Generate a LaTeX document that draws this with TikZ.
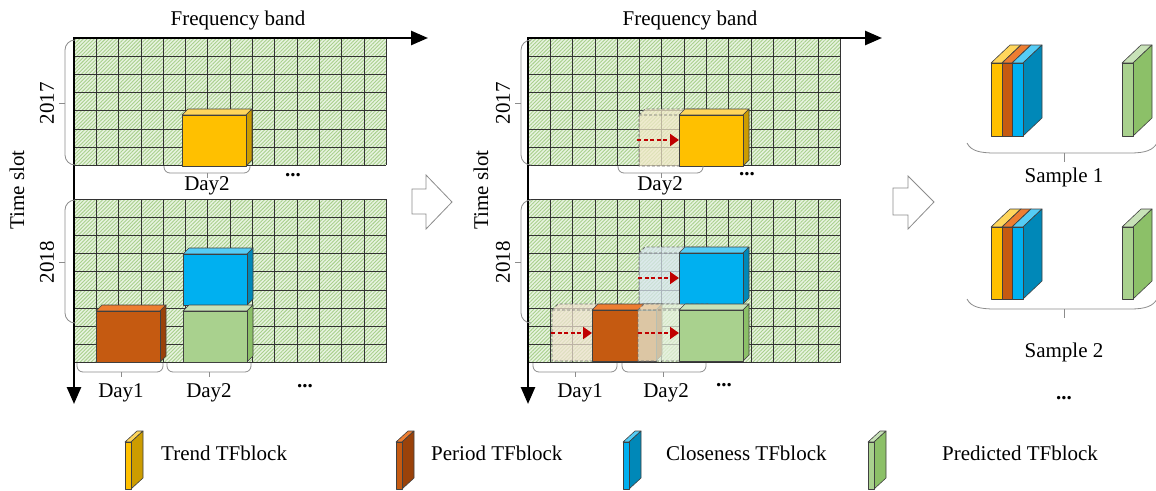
\documentclass[tikz,border=0pt]{standalone}
\usepackage{fontspec}
\setmainfont{Liberation Serif}
\usetikzlibrary{arrows.meta,patterns.meta}
\definecolor{gbg}{HTML}{E8F3E0}
\definecolor{gstripe}{HTML}{A8D08C}
\definecolor{gline}{HTML}{333333}
\definecolor{bedge}{HTML}{404040}
\definecolor{yfront}{HTML}{FFC000}
\definecolor{yside}{HTML}{CC9C00}
\definecolor{ytop}{HTML}{FFD65C}
\definecolor{ofront}{HTML}{C55A11}
\definecolor{oside}{HTML}{9A420A}
\definecolor{otop}{HTML}{ED7D31}
\definecolor{bfront}{HTML}{00B0F0}
\definecolor{bside}{HTML}{0088B8}
\definecolor{btop}{HTML}{55CCF5}
\definecolor{gfront}{HTML}{A9D18E}
\definecolor{gside}{HTML}{8CC068}
\definecolor{gtop}{HTML}{C8E2B8}
\definecolor{yghost}{HTML}{F2E8C8}
\definecolor{bghost}{HTML}{D8E6F0}
\definecolor{oghost}{HTML}{F2E4D2}
\definecolor{gghost}{HTML}{E6F1DE}
\definecolor{sred}{HTML}{C00000}
\definecolor{bgray}{HTML}{8C8C8C}
\definecolor{ghostline}{HTML}{707070}
% grid: x0, y0, ncols, nrows
\newcommand\tfgrid[4]{%
  \fill[gridbg] (#1,#2) rectangle ({#1+#3*22.3},{#2+#4*18.2});
  \fill[gridpat] (#1,#2) rectangle ({#1+#3*22.3},{#2+#4*18.2});
  \foreach \i in {0,...,#3} \draw[gridline] ({#1+\i*22.3},#2) -- ({#1+\i*22.3},{#2+#4*18.2});
  \foreach \j in {0,...,#4} \draw[gridline] (#1,{#2+\j*18.2}) -- ({#1+#3*22.3},{#2+\j*18.2});
}
% cube: x1,y1,x2,y2 (front face), dx, dy, colour prefix
\newcommand\tfcube[7]{%
  \filldraw[blockedge, fill=#7top] (#1,#2) -- ({#1+#5},{#2-#6}) -- ({#3+#5},{#2-#6}) -- (#3,#2) -- cycle;
  \filldraw[blockedge, fill=#7side] (#3,#2) -- ({#3+#5},{#2-#6}) -- ({#3+#5},{#4-#6}) -- (#3,#4) -- cycle;
  \filldraw[blockedge, fill=#7front] (#1,#2) rectangle (#3,#4);
}
% ghost: x1,y1,x2,y2, colour
\newcommand\tfghost[5]{%
  \filldraw[ghostbox, fill=#5] (#1,#2) -- ({#1+6},{#2-6}) -- ({#3+6},{#2-6}) -- ({#3+6},{#4-6}) -- (#3,#4) -- (#1,#4) -- cycle;
  \draw[ghostbox] (#1,#2) -- (#3,#2) -- ({#3+6},{#2-6}) (#3,#2) -- (#3,#4);
}
% vertical brace: spine x, y1, y2, tick y, tick end x
\newcommand\vbr[5]{%
  \draw[bracestyle, rounded corners=10pt] ({#1+9},#2) -- (#1,#2) -- (#1,#3) -- ({#1+9},#3);
  \draw[bracestyle] (#1,#4) -- (#5,#4);
}
% horizontal brace: x1, x2, ytop, ybottom, tick x, tick end y
\newcommand\hbr[6]{%
  \draw[bracestyle, rounded corners=6pt] (#1,#3) -- (#1,#4) -- (#2,#4) -- (#2,#3);
  \draw[bracestyle] (#5,#4) -- (#5,#6);
}
\begin{document}
\begin{tikzpicture}[x=1pt,y=-1pt,
  every node/.style={font=\fontsize{21}{25}\selectfont, inner sep=0pt},
  axisline/.style={line width=2.6pt, line join=miter},
  gridline/.style={draw=gline, line width=0.7pt},
  gridbg/.style={fill=gbg},
  gridpat/.style={pattern={Lines[angle=45,distance=2.6pt,line width=0.9pt]}, pattern color=gstripe},
  blockedge/.style={draw=bedge, line width=0.6pt, line join=round},
  ghostbox/.style={draw=ghostline, dash pattern=on 3pt off 2pt, line width=0.8pt, fill opacity=0.72},
  shiftarrow/.style={draw=sred, line width=2pt, dash pattern=on 4pt off 2.5pt, -{Triangle[length=9pt,width=12pt,fill=sred]}},
  bracestyle/.style={draw=bgray, line width=0.8pt},
  hollowarrow/.style={draw=bgray, fill=white, line width=0.8pt, line join=miter}
]
\useasboundingbox (0,0) rectangle (1156,490);

% ---------------- left panel ----------------
\tfgrid{74}{38}{14}{7}
\tfgrid{74}{199}{14}{9}
\coordinate (oL) at (74,38);
\coordinate (xL) at (428,38);
\coordinate (yL) at (74,404);
\draw[axisline, {Triangle[length=17pt,width=14pt]}-{Triangle[length=17pt,width=14pt]}] (yL) -- (oL) -- (xL);
\node (fbL) at (238,20) {Frequency band};
\node[rotate=90] (tsL) at (17,190) {Time slot};
\node[rotate=90] (y17L) at (47,103) {2017};
\node[rotate=90] (y18L) at (47,262) {2018};
\vbr{65}{40}{165}{103}{59}
\vbr{65}{200}{323}{262}{59}

\tfcube{182}{115}{246}{166}{6}{6}{y}
\tfcube{183}{254}{247}{305}{6}{6}{b}
\tfcube{183}{311}{247}{362}{6}{6}{g}
\tfcube{96}{311}{160}{362}{6}{6}{o}

\hbr{164}{250}{166}{173}{207}{178}
\node (d2aL) at (207,186) {Day2};
\node (dotsaL) at (293,175) {\textbf{...}};
\hbr{77}{163}{363}{372}{121}{377}
\node (d1L) at (121,393) {Day1};
\hbr{167}{251}{363}{372}{209}{377}
\node (d2bL) at (209,393) {Day2};
\node (dotsbL) at (305,386) {\textbf{...}};

% hollow arrow 1
\draw[hollowarrow] (412,189) -- (426,189) -- (426,175) -- (452,202) -- (426,229) -- (426,214) -- (412,214) -- cycle;

% ---------------- middle panel ----------------
\tfgrid{528}{38}{14}{7}
\tfgrid{528}{199}{14}{9}
\coordinate (oM) at (528,38);
\coordinate (xM) at (882,38);
\coordinate (yM) at (528,404);
\draw[axisline, {Triangle[length=17pt,width=14pt]}-{Triangle[length=17pt,width=14pt]}] (yM) -- (oM) -- (xM);
\node (fbM) at (690,20) {Frequency band};
\node[rotate=90] (tsM) at (481,190) {Time slot};
\node[rotate=90] (y17M) at (503,103) {2017};
\node[rotate=90] (y18M) at (503,262) {2018};
\vbr{521}{40}{165}{103}{515}
\vbr{521}{200}{323}{262}{515}

\tfghost{639}{115}{703}{166}{yghost}
\tfcube{679}{115}{743}{166}{6}{6}{y}
\tfghost{639}{253}{703}{304}{bghost}
\tfcube{679}{253}{743}{304}{6}{6}{b}
\tfghost{552}{310}{616}{361}{oghost}
\tfcube{592}{310}{656}{361}{6}{6}{o}
\tfghost{638}{310}{702}{361}{gghost}
\tfcube{679}{310}{743}{361}{6}{6}{g}

\coordinate (a1s) at (637,140); \coordinate (a1e) at (679,140);
\coordinate (a2s) at (638,278); \coordinate (a2e) at (679,278);
\coordinate (a3s) at (551,333); \coordinate (a3e) at (592,333);
\coordinate (a4s) at (638,333); \coordinate (a4e) at (679,333);
\draw[shiftarrow] (a1s) -- (a1e);
\draw[shiftarrow] (a2s) -- (a2e);
\draw[shiftarrow] (a3s) -- (a3e);
\draw[shiftarrow] (a4s) -- (a4e);

\hbr{618}{703}{166}{173}{661}{178}
\node (d2aM) at (660,186) {Day2};
\node (dotsaM) at (747,174) {\textbf{...}};
\hbr{533}{617}{363}{372}{575}{377}
\node (d1M) at (580,393) {Day1};
\hbr{622}{706}{363}{372}{663}{377}
\node (d2bM) at (666,393) {Day2};
\node (dotsbM) at (724,385) {\textbf{...}};

% hollow arrow 2
\draw[hollowarrow] (893,188) -- (908,188) -- (908,176) -- (934,202) -- (908,229) -- (908,215) -- (893,215) -- cycle;

% ---------------- right panel ----------------
\tfcube{991}{63}{1002}{136}{19}{18}{y}
\tfcube{1002}{63}{1012}{136}{19}{18}{o}
\tfcube{1012}{63}{1023}{136}{19}{18}{b}
\tfcube{1122}{63}{1133}{136}{19}{18}{g}
\draw[bracestyle] (967,143) .. controls (971,151) and (980,153) .. (995,153) -- (1130,153) .. controls (1146,153) and (1153,150) .. (1157,143);
\draw[bracestyle] (1064,153) -- (1064,162);
\node (s1) at (1064,177) {Sample 1};

\tfcube{991}{227}{1002}{299}{19}{18}{y}
\tfcube{1002}{227}{1012}{299}{19}{18}{o}
\tfcube{1012}{227}{1023}{299}{19}{18}{b}
\tfcube{1122}{227}{1133}{299}{19}{18}{g}
\draw[bracestyle] (967,299) .. controls (971,307) and (980,309) .. (995,309) -- (1130,309) .. controls (1146,309) and (1153,306) .. (1157,299);
\draw[bracestyle] (1064,309) -- (1064,318);
\node (s2) at (1064,352) {Sample 2};
\node (dotsR) at (1064,398) {\textbf{...}};

% ---------------- legend ----------------
\tfcube{125}{442}{131}{489}{12}{11}{y}
\node[anchor=west] (lt) at (161,453) {Trend TFblock};
\tfcube{396}{442}{402}{489}{12}{11}{o}
\node[anchor=west] (lp) at (431,453) {Period TFblock};
\tfcube{623}{442}{629}{489}{12}{11}{b}
\node[anchor=west] (lc) at (666,453) {Closeness TFblock};
\tfcube{868}{442}{874}{489}{12}{11}{g}
\node[anchor=west] (lpr) at (942,453) {Predicted TFblock};
\end{tikzpicture}
\end{document}
